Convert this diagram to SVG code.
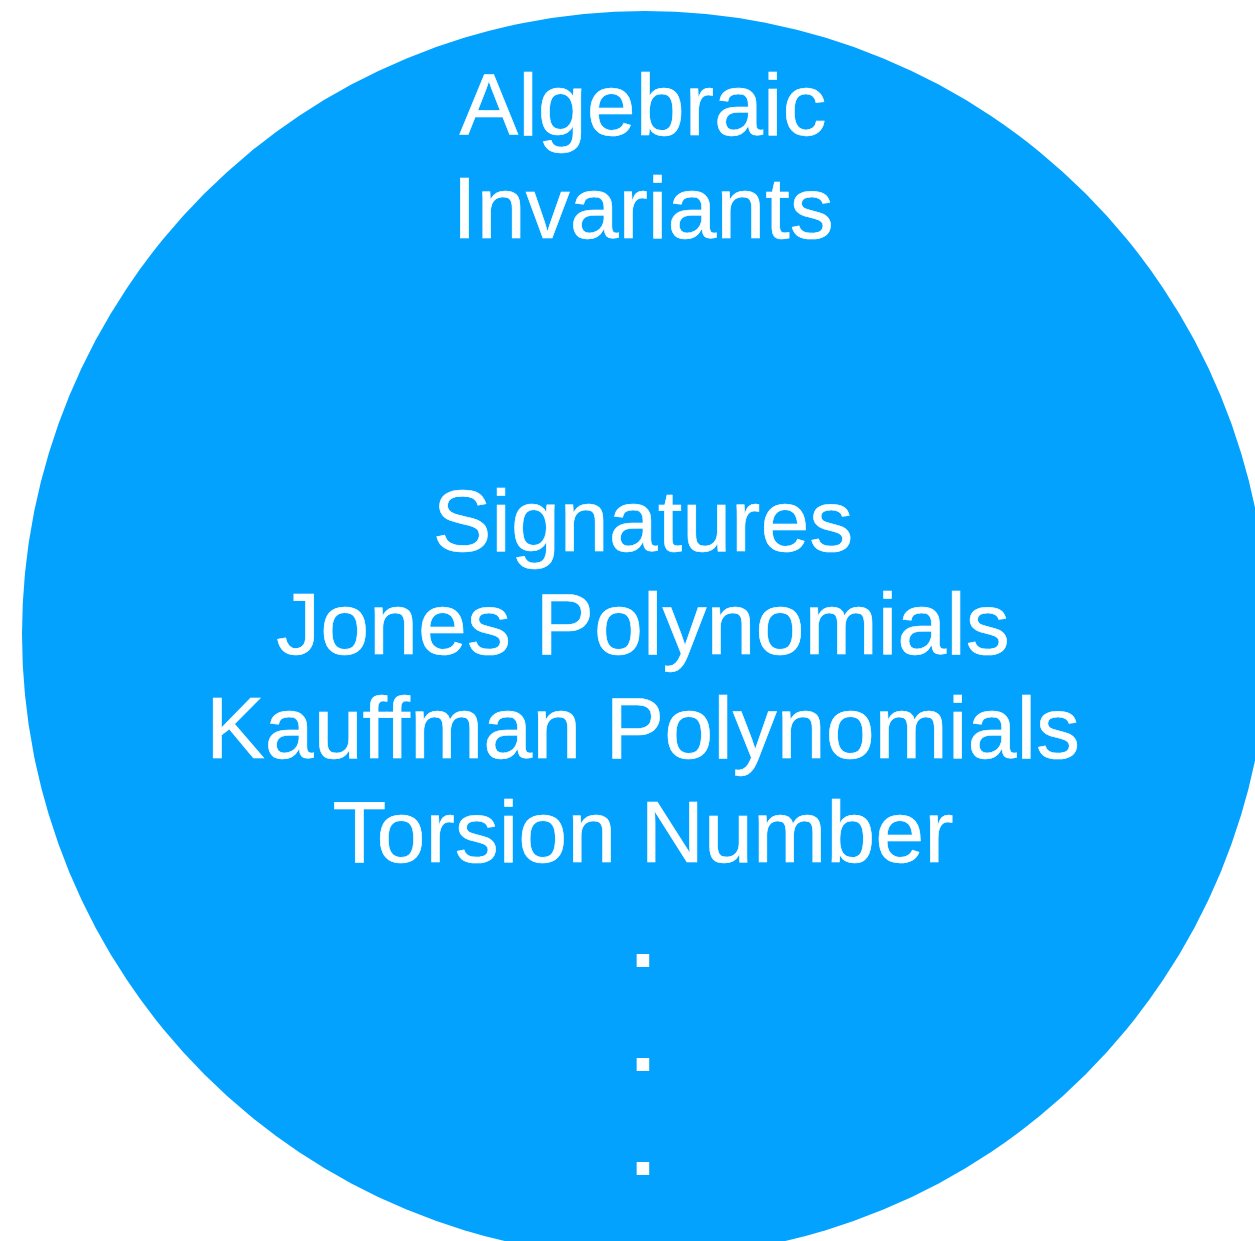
<svg xmlns="http://www.w3.org/2000/svg" width="1255" height="1241" viewBox="0 0 1255 1241">
<style>
.t{font-family:"Liberation Sans",Arial,Helvetica,sans-serif;font-size:88px;fill:#ffffff;text-anchor:middle;stroke:#ffffff;stroke-width:0.6px}
.d{font-weight:bold;stroke-width:0}
</style>
<rect width="1255" height="1241" fill="#ffffff"/>
<g id="algebraic-invariants">
<circle cx="645" cy="634" r="623" fill="#03A2FF"/>
<text class="t" x="643" y="135">Algebraic</text>
<text class="t" x="643" y="238">Invariants</text>
<text class="t" x="643" y="551">Signatures</text>
<text class="t" x="643" y="654">Jones Polynomials</text>
<text class="t" x="643" y="758">Kauffman Polynomials</text>
<text class="t" x="643" y="862">Torsion Number</text>
<text class="t d" x="643" y="967">.</text>
<text class="t d" x="643" y="1071">.</text>
<text class="t d" x="643" y="1175">.</text>
</g>
</svg>
